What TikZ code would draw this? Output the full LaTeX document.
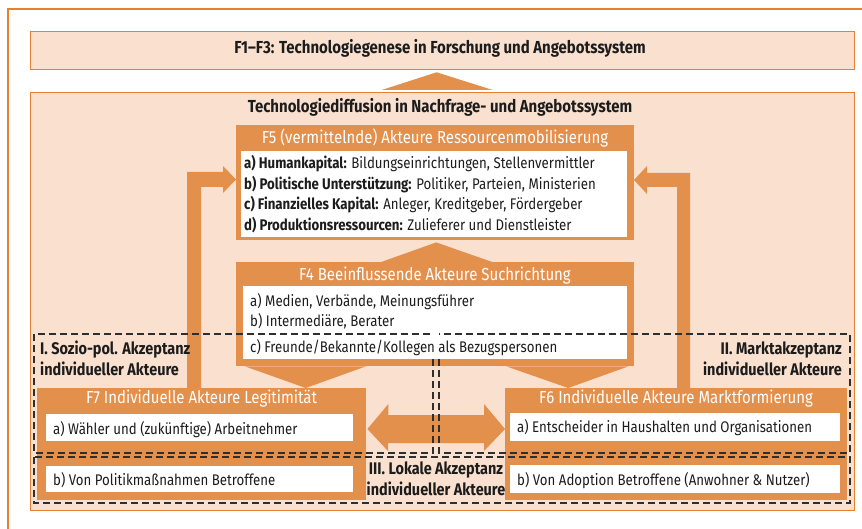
\documentclass[tikz,border=0pt]{standalone}
\usepackage{fontspec}
\setmainfont{Fira Sans}[FakeStretch=0.86]
\usepackage{xcolor}
\usetikzlibrary{calc,positioning}
\definecolor{peach}{HTML}{F9E0CF}
\definecolor{rim}{HTML}{E8812F}
\definecolor{ora}{HTML}{E4904D}
\definecolor{ink}{HTML}{1C1C1C}
\definecolor{dash}{HTML}{2E2E2E}
\tikzset{
  panel/.style={draw=rim, fill=peach, line width=1.3pt, anchor=north west, inner sep=0pt},
  obox/.style={fill=ora, anchor=north west, inner sep=0pt},
  wbox/.style={fill=white, anchor=north west, inner sep=0pt},
  arr/.style={fill=ora, draw=none},
  zone/.style={draw=dash, line width=1.1pt, dash pattern=on 7pt off 4pt},
  head/.style={text=white, anchor=base, inner sep=0pt, font=\fontsize{17.4}{20}\selectfont},
  item/.style={text=ink, anchor=base west, inner sep=0pt, font=\fontsize{15.4}{18}\selectfont},
  ttl/.style={text=ink, anchor=base, inner sep=0pt, font=\bfseries\fontsize{17.4}{20}\selectfont},
  zlab/.style={text=ink, inner sep=0pt, font=\bfseries\fontsize{16.8}{20.7}\selectfont},
}

\begin{document}
\begin{tikzpicture}[x=1pt, y=-1pt]
  \useasboundingbox (0,0) rectangle (862,529);
  \clip (0,0) rectangle (862,529);
  % outer frame
  \draw[draw=rim, line width=1.1pt] (8,9) rectangle (880,560);

  % panels
  \node[panel, minimum width=824pt, minimum height=38pt] (genese) at (30,31) {};
  \node[ttl] (genesetxt) at (440,54) {F1–F3: Technologiegenese in Forschung und Angebotssystem};
  \node[panel, minimum width=824pt, minimum height=418pt] (diff) at (30,92) {};
  \node[ttl] (difftxt) at (440,112.3) {Technologiediffusion in Nachfrage- und Angebotssystem};

  % elbow arrows from F7 and F6 up to F5
  \coordinate (lfoot) at (187,388);
  \coordinate (rfoot) at (690,388);
  \fill[arr] (lfoot) -- ++(0,-216) -- (223,172) -- (223,166) -- (236,179.5)
    -- (223,193) -- (223,187) -- (201,187) -- (201,388) -- cycle;
  \fill[arr] (rfoot) -- ++(0,-215) -- (647,173) -- (647,166) -- (634,180)
    -- (647,194) -- (647,187) -- (677,187) -- (677,388) -- cycle;

  % F5
  \node[obox, minimum width=398pt, minimum height=115pt] (f5) at (236,125) {};
  \node[head] (f5head) at (435,143.7) {F5 (vermittelnde) Akteure Ressourcenmobilisierung};
  \node[wbox, minimum width=386pt, minimum height=86pt] (f5list) at (241,151) {};
  \node[item] (f5a) at (244,168.3) {\textbf{a) Humankapital:} Bildungseinrichtungen, Stellenvermittler};
  \node[item] (f5b) at (244,189.3) {\textbf{b) Politische Unterstützung:} Politiker, Parteien, Ministerien};
  \node[item] (f5c) at (244,210) {\textbf{c) Finanzielles Kapital:} Anleger, Kreditgeber, Fördergeber};
  \node[item] (f5d) at (244,231) {\textbf{d) Produktionsressourcen:} Zulieferer und Dienstleister};

  % F4
  \node[obox, minimum width=398pt, minimum height=104pt] (f4) at (236,262) {};
  \node[head] (f4head) at (435,280.7) {F4 Beeinflussende Akteure Suchrichtung};
  \node[wbox, minimum width=384pt, minimum height=73pt] (f4list) at (243,286) {};
  \node[item] (f4a) at (250,306) {a) Medien, Verbände, Meinungsführer};
  \node[item] (f4b) at (250,326.7) {b) Intermediäre, Berater};
  \node[item] (f4c) at (250,352.3) {c) Freunde/Bekannte/Kollegen als Bezugspersonen};

  % triangles
  \fill[arr] ($(diff.north)+(-61,-2)$) -- ($(genese.south)+(-6,2)$) -- ($(diff.north)+(50,-2)$) -- cycle;
  \fill[arr] ($(f4.north)+(-54,0)$) -- ($(f5.south)+(1,2)$) -- ($(f4.north)+(57,0)$) -- cycle;

  % F7
  \node[obox, minimum width=329pt, minimum height=112pt] (f7) at (37,388) {};
  \node[head] (f7head) at (201.5,403.3) {F7 Individuelle Akteure Legitimität};
  \node[wbox, minimum width=307pt, minimum height=27pt] (f7a) at (46,414) {};
  \node[wbox, minimum width=307pt, minimum height=26pt] (f7b) at (46,466) {};
  \node[item] (f7atxt) at (53,434) {a) Wähler und (zukünftige) Arbeitnehmer};
  \node[item] (f7btxt) at (53,485) {b) Von Politikmaßnahmen Betroffene};

  % F6
  \node[obox, minimum width=342pt, minimum height=112pt] (f6) at (505,388) {};
  \node[head] (f6head) at (676,403.3) {F6 Individuelle Akteure Marktformierung};
  \node[wbox, minimum width=330pt, minimum height=28pt] (f6a) at (510,413) {};
  \node[wbox, minimum width=330pt, minimum height=28pt] (f6b) at (510,465) {};
  \node[item] (f6atxt) at (517,432) {a) Entscheider in Haushalten und Organisationen};
  \node[item] (f6btxt) at (517,485) {b) Von Adoption Betroffene (Anwohner \& Nutzer)};

  % F4 down to F7 and F6
  \fill[arr] ($(f4.south west)+(9,0)$) -- ($(f7.north)+(104,0)$) -- ($(f4.south west)+(130,0)$) -- cycle;
  \fill[arr] ($(f4.south east)+(-128,0)$) -- ($(f6.north)+(-108,0)$) -- ($(f4.south east)+(-6,0)$) -- cycle;

  % double arrow F7 <-> F6
  \coordinate (dl) at ($(f7.north east)+(1,41)$);
  \coordinate (dr) at ($(f6.north west)+(0,41)$);
  \fill[arr] (dl) -- ++(21,-25) -- ++(0,11) -- (484,415) -- (484,404) -- (dr)
    -- (484,451) -- (484,443) -- (388,443) -- (388,451) -- cycle;

  % acceptance zones (inner edges start below the F4 list)
  \draw[zone] (433,359) -- (433,453) -- (34,453) -- (34,334) -- (433,334);
  \draw[zone] (439,359) -- (439,453) -- (850,453) -- (850,334) -- (439,334);
  \draw[zone] (34,457) rectangle (850,503);
  \node[zlab, anchor=base west, align=left] (zsozio) at (40,375) {I. Sozio-pol. Akzeptanz\\individueller Akteure};
  \node[zlab, anchor=base east, align=right] (zmarkt) at (842,375) {II. Marktakzeptanz\\individueller Akteure};
  \node[zlab, anchor=base, align=center] (zlokal) at (436,495) {III. Lokale Akzeptanz\\individueller Akteure};
\end{tikzpicture}
\end{document}
